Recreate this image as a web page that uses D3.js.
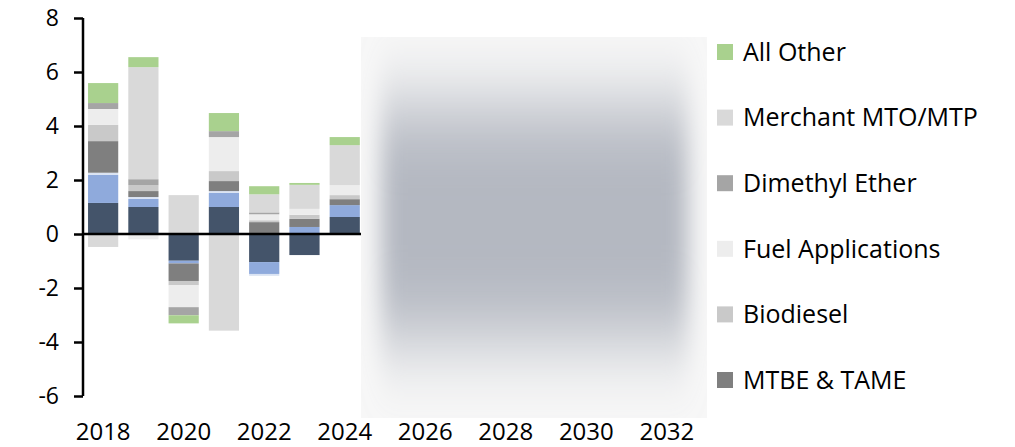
<!DOCTYPE html>
<html>
<head>
<meta charset="utf-8">
<script src="https://cdn.jsdelivr.net/npm/d3@7/dist/d3.min.js"></script>
<style>
  html, body { margin: 0; padding: 0; background: #fff; }
  svg { display: block; font-family: "Open Sans", "Noto Sans", sans-serif; }
</style>
</head>
<body>
<svg id="chart" width="1015" height="447"></svg>
<script>
// Years on the category axis (2025 onward is the forecast period)
const years = d3.range(2018, 2033);
const histYears = [2018, 2019, 2020, 2021, 2022, 2023, 2024];
const tickYears = [2018, 2020, 2022, 2024, 2026, 2028, 2030, 2032];
const yTicks = [-6, -4, -2, 0, 2, 4, 6, 8];

// Series, stacked bottom-up in this order
const seriesNames = ["Formaldehyde", "Acetic Acid", "Methylamines", "MTBE & TAME", "Biodiesel",
  "Fuel Applications", "Dimethyl Ether", "Merchant MTO/MTP", "All Other"];
const seriesColors = ["#44546a", "#8faadc", "#dae3f3", "#7f7f7f", "#c9c9c9",
  "#ededed", "#a5a5a5", "#d9d9d9", "#a9d18e"];

// Annual change by series, one value per historical year
const formaldehyde     = [1.15, 1.00, -0.99, 1.00, -1.04, -0.78, 0.63];
const aceticAcid       = [1.04, 0.30, -0.10, 0.52, -0.44, 0.26, 0.44];
const methylamines     = [0.08, 0.07, 0.00, 0.07, -0.07, 0.00, 0.00];
const mtbeTame         = [1.17, 0.22, -0.65, 0.37, 0.44, 0.30, 0.22];
const biodiesel        = [0.60, 0.22, -0.16, 0.37, 0.07, 0.15, 0.15];
const fuelApplications = [0.59, -0.20, -0.81, 1.26, 0.22, 0.22, 0.37];
const dimethylEther    = [0.22, 0.22, -0.30, 0.22, 0.07, 0.00, 0.00];
const merchantMto      = [-0.48, 4.15, 1.44, -3.58, 0.67, 0.89, 1.48];
const allOther         = [0.74, 0.37, -0.30, 0.67, 0.30, 0.07, 0.30];

// Legend entries (top to bottom)
const legendNames = ["All Other", "Merchant MTO/MTP", "Dimethyl Ether",
  "Fuel Applications", "Biodiesel", "MTBE & TAME"];

const seriesValues = [formaldehyde, aceticAcid, methylamines, mtbeTame, biodiesel,
  fuelApplications, dimethylEther, merchantMto, allOther];

const rows = histYears.map((yr, i) => {
  const r = { year: yr };
  seriesNames.forEach((n, k) => { r[n] = seriesValues[k][i]; });
  return r;
});

const svg = d3.select("#chart");
const font = "'Open Sans', 'Noto Sans', sans-serif";

const x = d3.scaleBand()
  .domain(years)
  .range([83, 687])
  .paddingInner(0.25)
  .paddingOuter(0.125);

const y = d3.scaleLinear().domain([-6, 8]).range([396, 18]);

const color = d3.scaleOrdinal().domain(seriesNames).range(seriesColors);

const stacked = d3.stack()
  .keys(seriesNames)
  .offset(d3.stackOffsetDiverging)(rows);

// Stacked bars
svg.append("g")
  .selectAll("g")
  .data(stacked)
  .join("g")
  .attr("fill", d => color(d.key))
  .selectAll("rect")
  .data(d => d)
  .join("rect")
  .attr("x", d => x(d.data.year))
  .attr("width", x.bandwidth())
  .attr("y", d => y(Math.max(d[0], d[1])))
  .attr("height", d => Math.abs(y(d[0]) - y(d[1])));

// Forecast haze bounds
const hx0 = 361, hx1 = 707, hy0 = 37, hy1 = 418;

// Zero line
svg.append("line")
  .attr("x1", 83).attr("x2", hx0)
  .attr("y1", y(0)).attr("y2", y(0))
  .attr("stroke", "#000").attr("stroke-width", 2.5);

// Y axis
const yAxis = svg.append("g")
  .attr("transform", "translate(83,0)")
  .call(d3.axisLeft(y).tickValues(yTicks).tickSize(9).tickPadding(15).tickFormat(d => String(d)));
yAxis.select(".domain").attr("stroke", "#000").attr("stroke-width", 2.5)
  .attr("d", `M0,${y(8)}V${y(-6)}`);
yAxis.selectAll(".tick line").attr("stroke", "#000").attr("stroke-width", 2.5);
yAxis.selectAll(".tick text").attr("font-size", 23).attr("fill", "#000")
  .style("font-family", font);

// X axis labels
const xAxis = svg.append("g")
  .attr("transform", "translate(0,417)")
  .call(d3.axisBottom(x).tickValues(tickYears).tickSize(0).tickPadding(6));
xAxis.select(".domain").remove();
xAxis.selectAll(".tick text").attr("font-size", 24).attr("fill", "#000")
  .style("font-family", font);

// Forecast haze over 2025 onward
const defs = svg.append("defs");
defs.append("clipPath").attr("id", "hazeClip")
  .append("rect").attr("x", hx0).attr("y", hy0).attr("width", hx1 - hx0).attr("height", hy1 - hy0);
const blur = defs.append("filter").attr("id", "hazeBlur")
  .attr("filterUnits", "userSpaceOnUse")
  .attr("x", 200).attr("y", -200).attr("width", 700).attr("height", 900);
blur.append("feGaussianBlur").attr("stdDeviation", "11 40");

const haze = svg.append("g").attr("clip-path", "url(#hazeClip)");
haze.append("rect")
  .attr("x", hx0).attr("y", hy0).attr("width", hx1 - hx0).attr("height", hy1 - hy0)
  .attr("fill", "#f7f7f7");
haze.append("rect")
  .attr("x", 381).attr("y", 105).attr("width", 307).attr("height", 235)
  .attr("fill", "#b4b8c1")
  .attr("filter", "url(#hazeBlur)");

// Legend
const legend = svg.append("g")
  .selectAll("g")
  .data(legendNames)
  .join("g")
  .attr("transform", (d, i) => `translate(717,${52 + i * 65.6})`);
legend.append("rect")
  .attr("x", 0).attr("y", -8).attr("width", 16).attr("height", 16)
  .attr("fill", d => color(d));
legend.append("text")
  .attr("x", 26).attr("y", 0).attr("dy", "0.35em")
  .attr("font-size", 25).attr("fill", "#000")
  .text(d => d);
</script>
</body>
</html>
